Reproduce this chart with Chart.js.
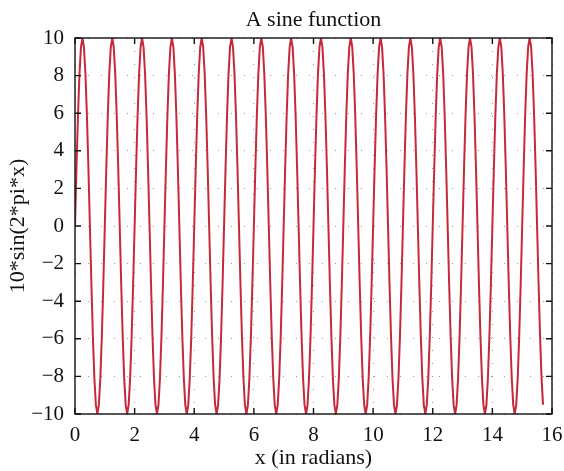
<!DOCTYPE html>
<html>
<head>
<meta charset="utf-8">
<script src="https://cdn.jsdelivr.net/npm/chart.js@4/dist/chart.umd.min.js"></script>
<style>
  html, body { margin: 0; padding: 0; background: #fff; }
  #wrap { width: 564px; height: 471px; }
</style>
</head>
<body>
<div id="wrap"><canvas id="chart-area" width="564" height="471"></canvas></div>
<script>
// samples of the curve, x in radians
var xValues = [
  0, 0.05, 0.1, 0.15, 0.2, 0.25, 0.3, 0.35, 0.4, 0.45, 0.5, 0.55, 0.6, 0.65, 0.7, 0.75, 0.8, 0.85, 0.9, 0.95,
  1, 1.05, 1.1, 1.15, 1.2, 1.25, 1.3, 1.35, 1.4, 1.45, 1.5, 1.55, 1.6, 1.65, 1.7, 1.75, 1.8, 1.85, 1.9, 1.95,
  2, 2.05, 2.1, 2.15, 2.2, 2.25, 2.3, 2.35, 2.4, 2.45, 2.5, 2.55, 2.6, 2.65, 2.7, 2.75, 2.8, 2.85, 2.9, 2.95,
  3, 3.05, 3.1, 3.15, 3.2, 3.25, 3.3, 3.35, 3.4, 3.45, 3.5, 3.55, 3.6, 3.65, 3.7, 3.75, 3.8, 3.85, 3.9, 3.95,
  4, 4.05, 4.1, 4.15, 4.2, 4.25, 4.3, 4.35, 4.4, 4.45, 4.5, 4.55, 4.6, 4.65, 4.7, 4.75, 4.8, 4.85, 4.9, 4.95,
  5, 5.05, 5.1, 5.15, 5.2, 5.25, 5.3, 5.35, 5.4, 5.45, 5.5, 5.55, 5.6, 5.65, 5.7, 5.75, 5.8, 5.85, 5.9, 5.95,
  6, 6.05, 6.1, 6.15, 6.2, 6.25, 6.3, 6.35, 6.4, 6.45, 6.5, 6.55, 6.6, 6.65, 6.7, 6.75, 6.8, 6.85, 6.9, 6.95,
  7, 7.05, 7.1, 7.15, 7.2, 7.25, 7.3, 7.35, 7.4, 7.45, 7.5, 7.55, 7.6, 7.65, 7.7, 7.75, 7.8, 7.85, 7.9, 7.95,
  8, 8.05, 8.1, 8.15, 8.2, 8.25, 8.3, 8.35, 8.4, 8.45, 8.5, 8.55, 8.6, 8.65, 8.7, 8.75, 8.8, 8.85, 8.9, 8.95,
  9, 9.05, 9.1, 9.15, 9.2, 9.25, 9.3, 9.35, 9.4, 9.45, 9.5, 9.55, 9.6, 9.65, 9.7, 9.75, 9.8, 9.85, 9.9, 9.95,
  10, 10.05, 10.1, 10.15, 10.2, 10.25, 10.3, 10.35, 10.4, 10.45, 10.5, 10.55, 10.6, 10.65, 10.7, 10.75, 10.8, 10.85, 10.9, 10.95,
  11, 11.05, 11.1, 11.15, 11.2, 11.25, 11.3, 11.35, 11.4, 11.45, 11.5, 11.55, 11.6, 11.65, 11.7, 11.75, 11.8, 11.85, 11.9, 11.95,
  12, 12.05, 12.1, 12.15, 12.2, 12.25, 12.3, 12.35, 12.4, 12.45, 12.5, 12.55, 12.6, 12.65, 12.7, 12.75, 12.8, 12.85, 12.9, 12.95,
  13, 13.05, 13.1, 13.15, 13.2, 13.25, 13.3, 13.35, 13.4, 13.45, 13.5, 13.55, 13.6, 13.65, 13.7, 13.75, 13.8, 13.85, 13.9, 13.95,
  14, 14.05, 14.1, 14.15, 14.2, 14.25, 14.3, 14.35, 14.4, 14.45, 14.5, 14.55, 14.6, 14.65, 14.7, 14.75, 14.8, 14.85, 14.9, 14.95,
  15, 15.05, 15.1, 15.15, 15.2, 15.25, 15.3, 15.35, 15.4, 15.45, 15.5, 15.55, 15.6, 15.65, 15.7
];

var yValues = [
  0, 3.09, 5.88, 8.09, 9.51, 10, 9.51, 8.09, 5.88, 3.09, 0, -3.09, -5.88, -8.09, -9.51, -10, -9.51, -8.09, -5.88, -3.09,
  0, 3.09, 5.88, 8.09, 9.51, 10, 9.51, 8.09, 5.88, 3.09, 0, -3.09, -5.88, -8.09, -9.51, -10, -9.51, -8.09, -5.88, -3.09,
  0, 3.09, 5.88, 8.09, 9.51, 10, 9.51, 8.09, 5.88, 3.09, 0, -3.09, -5.88, -8.09, -9.51, -10, -9.51, -8.09, -5.88, -3.09,
  0, 3.09, 5.88, 8.09, 9.51, 10, 9.51, 8.09, 5.88, 3.09, 0, -3.09, -5.88, -8.09, -9.51, -10, -9.51, -8.09, -5.88, -3.09,
  0, 3.09, 5.88, 8.09, 9.51, 10, 9.51, 8.09, 5.88, 3.09, 0, -3.09, -5.88, -8.09, -9.51, -10, -9.51, -8.09, -5.88, -3.09,
  0, 3.09, 5.88, 8.09, 9.51, 10, 9.51, 8.09, 5.88, 3.09, 0, -3.09, -5.88, -8.09, -9.51, -10, -9.51, -8.09, -5.88, -3.09,
  0, 3.09, 5.88, 8.09, 9.51, 10, 9.51, 8.09, 5.88, 3.09, 0, -3.09, -5.88, -8.09, -9.51, -10, -9.51, -8.09, -5.88, -3.09,
  0, 3.09, 5.88, 8.09, 9.51, 10, 9.51, 8.09, 5.88, 3.09, 0, -3.09, -5.88, -8.09, -9.51, -10, -9.51, -8.09, -5.88, -3.09,
  0, 3.09, 5.88, 8.09, 9.51, 10, 9.51, 8.09, 5.88, 3.09, 0, -3.09, -5.88, -8.09, -9.51, -10, -9.51, -8.09, -5.88, -3.09,
  0, 3.09, 5.88, 8.09, 9.51, 10, 9.51, 8.09, 5.88, 3.09, 0, -3.09, -5.88, -8.09, -9.51, -10, -9.51, -8.09, -5.88, -3.09,
  0, 3.09, 5.88, 8.09, 9.51, 10, 9.51, 8.09, 5.88, 3.09, 0, -3.09, -5.88, -8.09, -9.51, -10, -9.51, -8.09, -5.88, -3.09,
  0, 3.09, 5.88, 8.09, 9.51, 10, 9.51, 8.09, 5.88, 3.09, 0, -3.09, -5.88, -8.09, -9.51, -10, -9.51, -8.09, -5.88, -3.09,
  0, 3.09, 5.88, 8.09, 9.51, 10, 9.51, 8.09, 5.88, 3.09, 0, -3.09, -5.88, -8.09, -9.51, -10, -9.51, -8.09, -5.88, -3.09,
  0, 3.09, 5.88, 8.09, 9.51, 10, 9.51, 8.09, 5.88, 3.09, 0, -3.09, -5.88, -8.09, -9.51, -10, -9.51, -8.09, -5.88, -3.09,
  0, 3.09, 5.88, 8.09, 9.51, 10, 9.51, 8.09, 5.88, 3.09, 0, -3.09, -5.88, -8.09, -9.51, -10, -9.51, -8.09, -5.88, -3.09,
  0, 3.09, 5.88, 8.09, 9.51, 10, 9.51, 8.09, 5.88, 3.09, 0, -3.09, -5.88, -8.09, -9.51
];

var xTicks = [0, 2, 4, 6, 8, 10, 12, 14, 16];
var yTicks = [-10, -8, -6, -4, -2, 0, 2, 4, 6, 8, 10];

var points = xValues.map(function (x, i) { return { x: x, y: yValues[i] }; });

var serif = '"Liberation Serif", "DejaVu Serif", serif';

function minus(v) { return String(v).replace('-', '\u2212'); }

// black box with inward ticks on all four sides
var framePlugin = {
  id: 'frame',
  afterDraw: function (chart) {
    var c = chart.ctx, a = chart.chartArea;
    var xs = chart.scales.x, ys = chart.scales.y;
    var len = 6;
    c.save();
    c.strokeStyle = '#111';
    c.lineWidth = 1.4;
    c.strokeRect(a.left, a.top, a.right - a.left, a.bottom - a.top);
    c.beginPath();
    xTicks.forEach(function (t) {
      var px = xs.getPixelForValue(t);
      c.moveTo(px, a.bottom); c.lineTo(px, a.bottom - len);
      c.moveTo(px, a.top); c.lineTo(px, a.top + len);
    });
    yTicks.forEach(function (t) {
      var py = ys.getPixelForValue(t);
      c.moveTo(a.left, py); c.lineTo(a.left + len, py);
      c.moveTo(a.right, py); c.lineTo(a.right - len, py);
    });
    c.stroke();
    c.restore();
  }
};

var config = {
  type: 'line',
  data: {
    datasets: [{
      data: points,
      borderColor: '#c42a3c',
      borderWidth: 2,
      pointRadius: 0,
      tension: 0,
      fill: false
    }]
  },
  options: {
    responsive: false,
    animation: false,
    layout: { padding: { left: 0, right: 12, top: 0, bottom: 0 } },
    plugins: {
      legend: { display: false },
      tooltip: { enabled: false },
      title: { display: false }
    },
    scales: {
      // top axis only carries the chart title, centred over the plot box
      top: {
        type: 'linear',
        position: 'top',
        min: 0,
        max: 16,
        afterFit: function (s) { s.height = 38; s.paddingLeft = 0; s.paddingRight = 0; },
        grid: { display: false },
        border: { display: false },
        ticks: { display: false },
        title: {
          display: true,
          text: 'A sine function',
          color: '#111',
          font: { family: serif, size: 22 },
          padding: { top: 7, bottom: 0 }
        }
      },
      x: {
        type: 'linear',
        min: 0,
        max: 16,
        afterBuildTicks: function (s) { s.ticks = xTicks.map(function (v) { return { value: v }; }); },
        afterFit: function (s) { s.height = 57; s.paddingLeft = 0; s.paddingRight = 0; },
        grid: { color: '#999', lineWidth: 1, drawTicks: false },
        border: { display: false, dash: [1, 12] },
        ticks: {
          color: '#111',
          padding: 9,
          maxRotation: 0,
          font: { family: serif, size: 21 },
          callback: function (v) { return minus(v); }
        },
        title: {
          display: true,
          text: 'x (in radians)',
          color: '#111',
          font: { family: serif, size: 22 },
          padding: { top: 0, bottom: 0 }
        }
      },
      y: {
        min: -10,
        max: 10,
        afterBuildTicks: function (s) { s.ticks = yTicks.map(function (v) { return { value: v }; }); },
        afterFit: function (s) { s.width = 75; },
        grid: { color: '#999', lineWidth: 1, drawTicks: false },
        border: { display: false, dash: [1, 12] },
        ticks: {
          color: '#111',
          padding: 11,
          font: { family: serif, size: 21 },
          callback: function (v) { return minus(v); }
        },
        title: {
          display: true,
          text: '10*sin(2*pi*x)',
          color: '#111',
          font: { family: serif, size: 22 },
          padding: { top: 5, bottom: 0 }
        }
      }
    }
  },
  plugins: [framePlugin]
};

window.onload = function () {
  var ctx = document.getElementById('chart-area').getContext('2d');
  window.myLine = new Chart(ctx, config);
};
</script>
</body>
</html>
